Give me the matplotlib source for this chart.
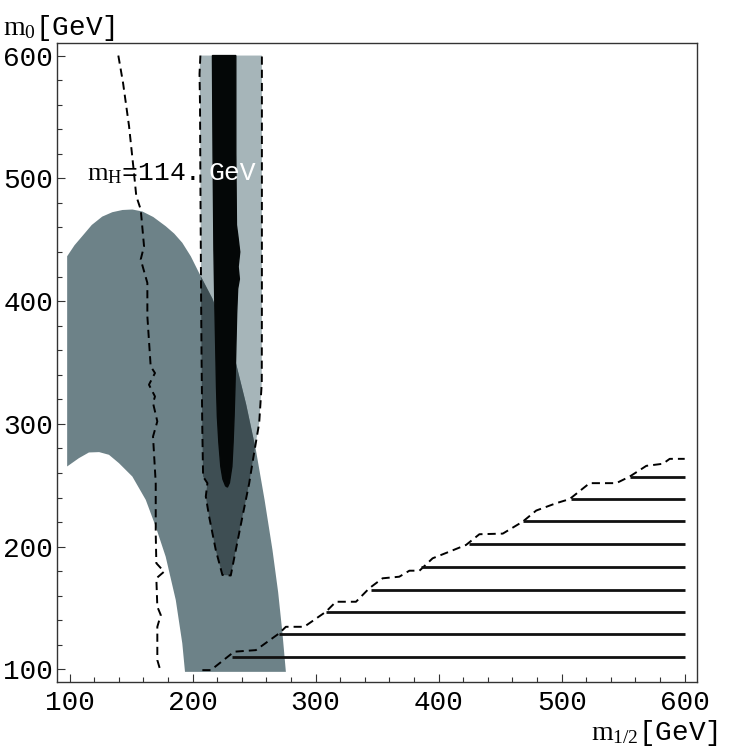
import numpy as np
import matplotlib

matplotlib.use("Agg")
import matplotlib.pyplot as plt
from matplotlib.patches import Polygon
from matplotlib.ticker import MultipleLocator

plt.rcParams["font.family"] = ["Liberation Mono", "DejaVu Sans"]
plt.rcParams["mathtext.fontset"] = "custom"
plt.rcParams["mathtext.rm"] = "Liberation Serif"
plt.rcParams["mathtext.it"] = "Liberation Serif"

# broad grey band (m1/2, m0) outline
band_x = [98.0, 104.0, 110.3, 118.0, 126.5, 134.7, 143.0, 151.0, 159.1, 168.0,
          178.1, 185.0, 191.6, 198.5, 205.2, 216.1, 225.0, 235.1, 243.5, 251.4,
          258.5, 264.9, 269.5, 273.0, 275.8, 193.8, 191.6, 186.3, 178.1, 170.0,
          161.9, 151.0, 140.1, 132.0, 124.0, 115.7, 107.6, 98.0]
band_y = [436.5, 445.5, 452.9, 462.0, 468.8, 472.4, 474.2, 474.6, 473.0, 468.5,
          461.0, 455.0, 447.5, 436.5, 423.0, 402.0, 379.0, 350.0, 316.0, 278.9,
          238.0, 197.3, 163.0, 129.6, 98.0, 98.0, 121.2, 156.5, 191.8, 216.3,
          238.1, 257.1, 268.0, 274.8, 277.0, 276.7, 272.1, 265.3]

# light region bounded by the dashed contour
light_x = [206.3, 205.6, 206.0, 206.3, 206.6, 206.9, 207.3, 207.8, 208.5, 212.0,
           210.7, 213.4, 218.8, 224.2, 231.0, 235.1, 240.5, 246.0, 248.6, 254.1,
           256.2, 256.3, 256.3, 256.3]
light_y = [600, 585, 560, 500, 450, 400, 350, 300, 257.1, 251.7,
           240.8, 224.5, 197.3, 176.9, 176.5, 197.3, 224.5, 251.7, 268.0, 300.7,
           333.0, 400, 500, 600]

# black core region
core_x = [216.1, 216.6, 217.3, 218.0, 218.8, 219.4, 220.1, 221.3, 222.9, 224.6,
          226.8, 228.3, 229.9, 231.9, 232.9, 233.7, 234.4, 235.1, 235.8, 236.6,
          238.0, 237.0, 238.3, 236.9, 235.6, 235.1, 235.1]
core_y = [600, 520, 442, 400, 360.4, 330, 306, 285, 265.3, 255,
          249.5, 248.5, 252, 265.3, 285, 306, 330, 360.4, 390, 410,
          418, 428, 440, 452, 462, 520, 600]

# m_H = 114 GeV contour
mh_x = [139.6, 143.4, 148.3, 152.3, 154.2, 157.8, 160.5, 157.8, 163.2, 163.2,
        165.9, 169.4, 164.5, 169.4, 167.8, 171.3, 167.8, 170.0, 170.0, 170.5,
        176.8, 170.5, 171.3, 174.1, 171.3, 171.3, 174.1]
mh_y = [600, 578, 542.6, 504.6, 485.5, 474.6, 444.7, 433.9, 414.8, 387.6,
        346.8, 341.4, 331.9, 322.3, 317, 302, 289.7, 251.7, 210.9, 186.5,
        179.6, 174.2, 151.1, 144.3, 134.7, 107.6, 98]

# excluded region boundary (staircase)
stair_x = [207.9, 214.8, 233.7, 251.4, 270.4, 275.8, 290.7, 308.4, 316.5, 332.8,
           343.6, 354.4, 368.0, 376.2, 384.4, 395.1, 408.7, 422.3, 433.1, 452.1,
           468.4, 479.3, 495.6, 506.4, 522.7, 544.4, 555.3, 568.8, 582.3, 587.8,
           600.0]
stair_y = [99.4, 99.4, 114.4, 115.7, 129.4, 134.7, 134.7, 147.0, 155.1, 155.1,
           166.1, 174.2, 175.5, 180.4, 180.4, 190.5, 195.9, 201.4, 210.1, 210.6,
           220.4, 229.4, 235.4, 238.7, 251.7, 251.7, 257.1, 265.8, 267.5, 271.5,
           271.5]

# hatch lines of the excluded region
hatch_y = [110, 128.5, 147, 165, 183.5, 202, 220.5, 239, 257]
hatch_start = [232.3, 270.4, 308.4, 345.0, 385.7, 425.0, 468.4, 507.7, 555.3]
hatch_end = 600

fig = plt.figure(figsize=(7.31, 7.5), dpi=100)
ax = fig.add_axes([0.0784, 0.0911, 0.8751, 0.8512])
ax.set_xlim(90, 610)
ax.set_ylim(90, 610)

light = Polygon(np.column_stack([light_x, light_y]), closed=True,
                facecolor="#a6b5b9", edgecolor="none", zorder=1)
ax.add_patch(light)
band = Polygon(np.column_stack([band_x, band_y]), closed=True,
               facecolor="#6d8288", edgecolor="none", zorder=2)
ax.add_patch(band)
overlap = Polygon(np.column_stack([light_x, light_y]), closed=True,
                  facecolor="#3e4e53", edgecolor="none", zorder=3)
ax.add_patch(overlap)
overlap.set_clip_path(band)
core = Polygon(np.column_stack([core_x, core_y]), closed=True,
               facecolor="#040707", edgecolor="#040707", lw=1.0, zorder=4)
ax.add_patch(core)

dash = (0, (4.2, 2.6))
ax.plot(light_x, light_y, color="black", lw=1.4, ls=dash, zorder=5)
ax.plot(mh_x, mh_y, color="black", lw=1.4, ls=dash, zorder=5)
ax.plot(stair_x, stair_y, color="black", lw=1.4, ls=dash, zorder=5)
ax.hlines(hatch_y, hatch_start, hatch_end, color="#111111", lw=2.0, zorder=5)

ax.text(114.3, 498.3, r"$\mathrm{m}_{\mathrm{H}}$=114.", fontsize=19,
        color="black", va="baseline", zorder=6)
ax.text(212.8, 498.3, "GeV", fontsize=19, color="white", va="baseline", zorder=6)

for s in ax.spines.values():
    s.set_color("#333333")
    s.set_linewidth(1.0)

ax.xaxis.set_major_locator(MultipleLocator(100))
ax.xaxis.set_minor_locator(MultipleLocator(20))
ax.yaxis.set_major_locator(MultipleLocator(100))
ax.yaxis.set_minor_locator(MultipleLocator(20))
ax.tick_params(which="both", direction="in", top=False, right=False,
               labelsize=20, width=0.8, color="#333333")
ax.tick_params(which="major", length=6)
ax.tick_params(which="minor", length=3.5)
ax.tick_params(axis="x", pad=6)
ax.tick_params(axis="y", pad=3)

fig.text(0.004, 0.953, r"$\mathrm{m}_{0}$[GeV]", fontsize=20, va="baseline")
fig.text(0.982, 0.014, r"$\mathrm{m}_{1/2}$[GeV]", fontsize=20, va="baseline",
         ha="right")

fig.savefig("out.png", dpi=100)
